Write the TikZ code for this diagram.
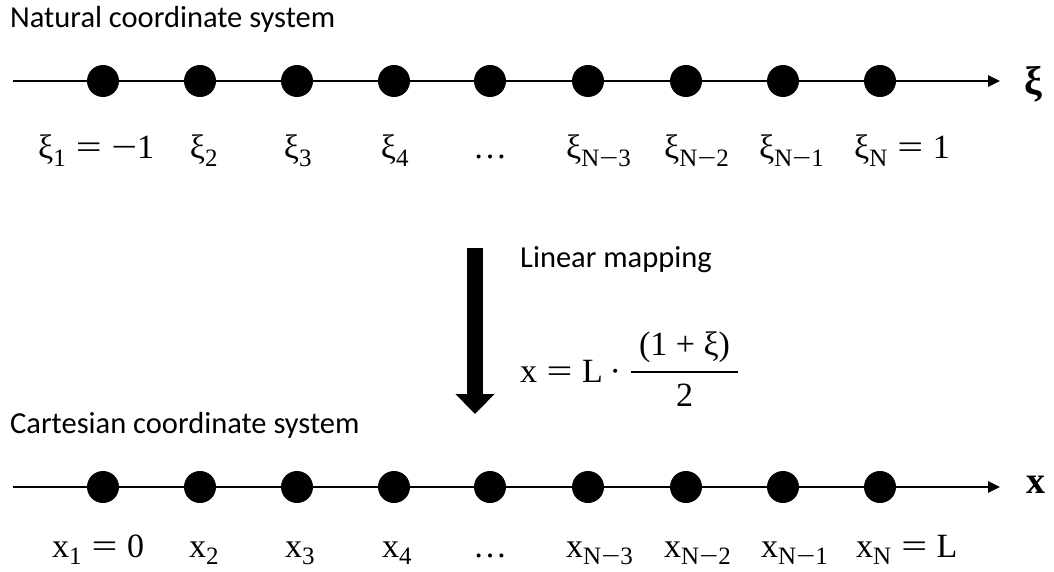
\documentclass[tikz,border=0pt]{standalone}
\usepackage{fontspec}
\setmainfont{Carlito}
\newfontfamily\mser{Liberation Serif}
\usetikzlibrary{arrows.meta}
\tikzset{
  dotnode/.style={circle,fill=black,inner sep=0pt,minimum size=32pt},
  axisline/.style={line width=2.6pt,-{Triangle[width=11pt,length=12pt]}},
  lbl/.style={font=\mser\fontsize{34}{38}\selectfont,inner sep=0pt,anchor=base},
  ttl/.style={font=\fontsize{30.5}{34}\selectfont,inner sep=0pt,anchor=base west},
  bigarrow/.style={line width=16pt,-{Triangle[width=38pt,length=20pt]}}
}
\newcommand{\sbs}[1]{\textsubscript{\raisebox{-0.3ex}{\fontsize{25}{28}\selectfont #1}}}
\newcommand{\eqs}{\hspace{0.28em}\scalebox{1.35}[1]{=}\hspace{0.28em}}
\newcommand{\mn}{\scalebox{1.35}[1]{−}}
\begin{document}
\begin{tikzpicture}[x=1pt,y=-1pt]
\useasboundingbox (0,0) rectangle (1054,572);
% titles
\node[ttl] (t1) at (10,28) {Natural coordinate system};
\node[ttl] (t2) at (10,433) {Cartesian coordinate system};
% axes and points
\coordinate (a0) at (13,81);
\coordinate (a1) at (1000,81);
\draw[axisline] (a0) -- (a1);
\coordinate (b0) at (13,487);
\coordinate (b1) at (1000,487);
\draw[axisline] (b0) -- (b1);
\foreach \i/\x in {1/103,2/200,3/297,4/394,5/490,6/588,7/686,8/783,9/880}{
  \node[dotnode] (p\i) at (\x,81) {};
  \node[dotnode] (q\i) at (\x,487) {};
}
\node[font=\mser\bfseries\fontsize{40}{44}\selectfont,inner sep=0pt] (xi) at (1033,84) {ξ};
\node[font=\mser\bfseries\fontsize{38}{42}\selectfont,inner sep=0pt] (xx) at (1036,485) {x};
% top labels
\node[lbl,anchor=base west] (l1) at (38,159) {ξ\sbs{1}\eqs\mn{}1};
\node[lbl] (l2) at (204,159) {ξ\sbs{2}};
\node[lbl] (l3) at (298,159) {ξ\sbs{3}};
\node[lbl] (l4) at (395,159) {ξ\sbs{4}};
\node[lbl] (l5) at (490,159) {…};
\node[lbl,anchor=base west] (l6) at (566,159) {ξ\sbs{N\mn3}};
\node[lbl,anchor=base west] (l7) at (664,159) {ξ\sbs{N\mn2}};
\node[lbl,anchor=base west] (l8) at (759,159) {ξ\sbs{N\mn1}};
\node[lbl,anchor=base west] (l9) at (854,159) {ξ\sbs{N}\eqs1};
% bottom labels
\node[lbl,anchor=base west] (m1) at (52,557) {x\sbs{1}\eqs0};
\node[lbl] (m2) at (204,557) {x\sbs{2}};
\node[lbl] (m3) at (300,557) {x\sbs{3}};
\node[lbl] (m4) at (397,557) {x\sbs{4}};
\node[lbl] (m5) at (490,557) {…};
\node[lbl,anchor=base west] (m6) at (566,557) {x\sbs{N\mn3}};
\node[lbl,anchor=base west] (m7) at (664,557) {x\sbs{N\mn2}};
\node[lbl,anchor=base west] (m8) at (761,557) {x\sbs{N\mn1}};
\node[lbl,anchor=base west] (m9) at (856,557) {x\sbs{N}\eqs L};
% mapping
\coordinate (s0) at (475,248);
\coordinate (s1) at (475,414);
\draw[bigarrow] (s0) -- (s1);
\node[ttl] (lm) at (520,267) {Linear mapping};
\node[lbl,anchor=base west] (eq) at (520,382) {x\eqs L\hspace{0.2em}·};
\coordinate (f0) at (631,372);
\coordinate (f1) at (738,372);
\draw[line width=1.8pt] (f0) -- (f1);
\node[lbl] (num) at (684.5,355) {(1\hspace{0.25em}+\hspace{0.25em}ξ)};
\node[lbl] (den) at (684.5,406) {2};
\end{tikzpicture}
\end{document}
